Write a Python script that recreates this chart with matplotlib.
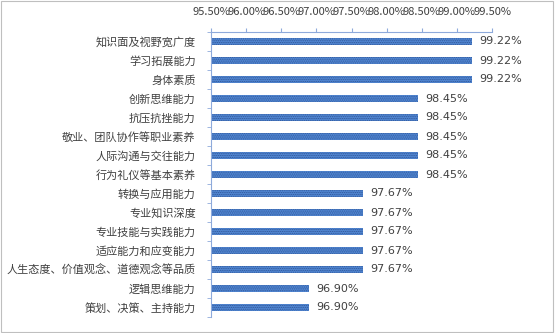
import numpy as np
import matplotlib.pyplot as plt
from matplotlib.ticker import FuncFormatter, FixedLocator

plt.rcParams['font.family'] = ['Noto Sans CJK SC', 'DejaVu Sans']
plt.rcParams['hatch.color'] = '#2f5597'
plt.rcParams['hatch.linewidth'] = 0.6

# 数据
categories = ['知识面及视野宽广度', '学习拓展能力', '身体素质', '创新思维能力', '抗压抗挫能力',
              '敬业、团队协作等职业素养', '人际沟通与交往能力', '行为礼仪等基本素养', '转换与应用能力',
              '专业知识深度', '专业技能与实践能力', '适应能力和应变能力',
              '人生态度、价值观念、道德观念等品质', '逻辑思维能力', '策划、决策、主持能力']
values = [99.22, 99.22, 99.22, 98.45, 98.45, 98.45, 98.45, 98.45, 97.67,
          97.67, 97.67, 97.67, 97.67, 96.90, 96.90]
xticks = [95.5, 96.0, 96.5, 97.0, 97.5, 98.0, 98.5, 99.0, 99.5]

fig = plt.figure(figsize=(5.55, 3.33), dpi=100)
ax = fig.add_axes([211 / 555, 1 - 317 / 333, (492 - 211) / 555, (317 - 32) / 333])

y = np.arange(len(categories))
ax.barh(y, np.array(values) - 95.5, left=95.5, height=0.38, color='#5288d4',
        hatch='.........', edgecolor='#2f5597', linewidth=0)

for yi, v in zip(y, values):
    ax.text(v + 0.1, yi, f'{v:.2f}%', va='center', ha='left', fontsize=8, color='#404040',
            family='DejaVu Sans')

ax.set_xlim(95.5, 99.5)
ax.set_ylim(len(categories) - 0.5, -0.5)
ax.xaxis.tick_top()
ax.set_xticks(xticks)
ax.xaxis.set_major_formatter(FuncFormatter(lambda v, p: f'{v:.2f}%'))
ax.tick_params(axis='x', labelsize=8, colors='#8eaadb', labelcolor='#404040', length=3, pad=8)
ax.set_yticks(y)
ax.set_yticklabels(categories, fontsize=8, color='#404040')
ax.yaxis.set_minor_locator(FixedLocator(np.arange(-0.5, len(categories), 1)))
ax.tick_params(axis='y', which='major', length=0, pad=11)
ax.tick_params(axis='y', which='minor', length=3, color='#8eaadb')

for s in ['right', 'bottom']:
    ax.spines[s].set_visible(False)
ax.spines['top'].set_color('#8eaadb')
ax.spines['left'].set_color('#8eaadb')

fig.patches.append(plt.Rectangle((0.002, 0.003), 0.995, 0.993, transform=fig.transFigure,
                                 fill=False, edgecolor='#bfbfbf', linewidth=0.8))

fig.savefig('out.png', dpi=100)
